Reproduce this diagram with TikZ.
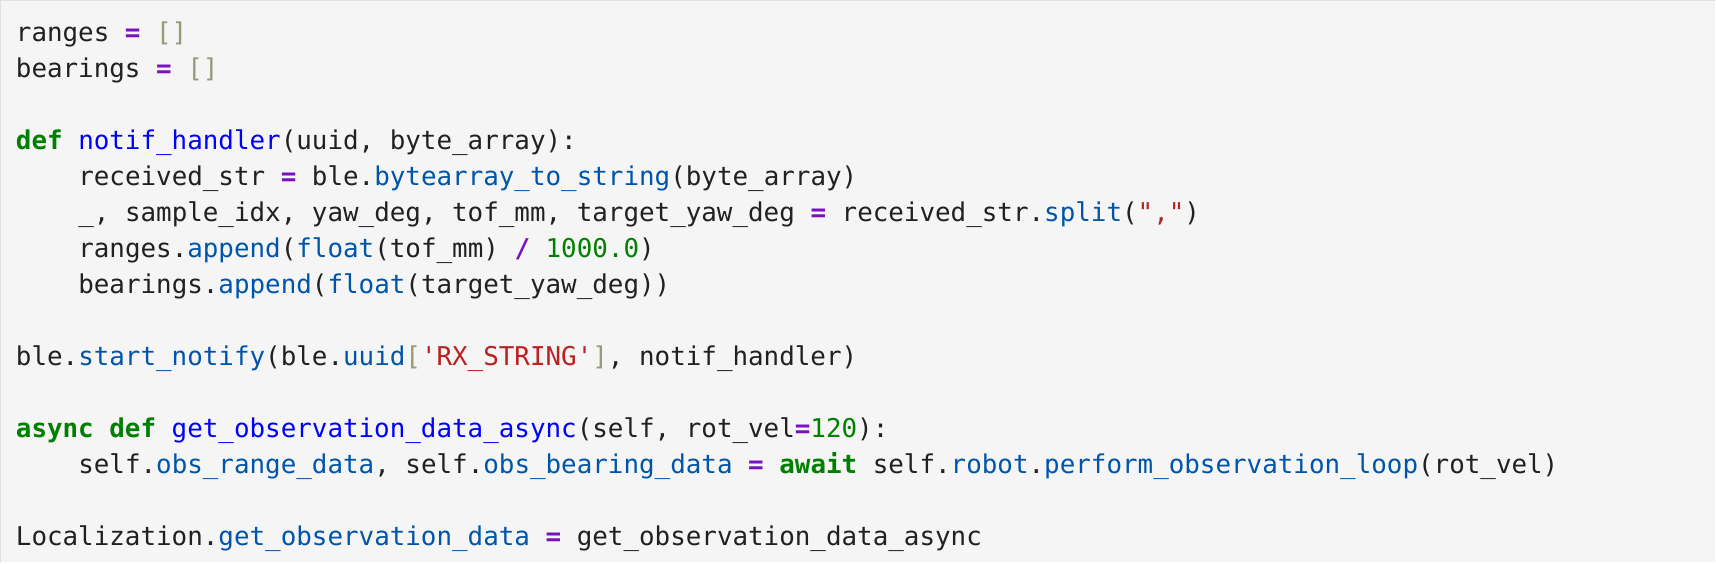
\documentclass[tikz,border=0pt]{standalone}
\usepackage{fontspec}
\setmonofont{DejaVu Sans Mono}
\usetikzlibrary{positioning}
\definecolor{codebg}{RGB}{245, 245, 245}
\definecolor{codeframe}{RGB}{224, 224, 224}
\definecolor{codetext}{RGB}{33, 33, 33}
\definecolor{kwgreen}{RGB}{0, 128, 0}
\definecolor{fnblue}{RGB}{0, 0, 255}
\definecolor{attrblue}{RGB}{0, 85, 170}
\definecolor{oppurple}{RGB}{122, 16, 192}
\definecolor{brolive}{RGB}{153, 153, 119}
\definecolor{strred}{RGB}{186, 33, 33}
\newcommand{\kw}[1]{\textcolor{kwgreen}{\textbf{#1}}}
\newcommand{\fn}[1]{\textcolor{fnblue}{#1}}
\newcommand{\me}[1]{\textcolor{attrblue}{#1}}
\newcommand{\op}[1]{\textcolor{oppurple}{\textbf{#1}}}
\newcommand{\br}[1]{\textcolor{brolive}{#1}}
\newcommand{\st}[1]{\textcolor{strred}{#1}}
\newcommand{\nm}[1]{\textcolor{kwgreen}{#1}}
\tikzset{codeline/.style={anchor=base west, inner sep=0pt, text=codetext, font=\ttfamily\fontsize{25.9}{30}\selectfont}}

\begin{document}
\begin{tikzpicture}[x=1pt, y=-1pt]

% Background
\fill[codebg] (0,0) rectangle (1716,562);
\draw[codeframe, line width=1.5pt] (0,562) -- (0,0) -- (1716,0);

% Code lines
\node (l0) [codeline] at (15,41) {ranges \op{=} \br{[]}};
\node (l1) [codeline] at (15,77) {bearings \op{=} \br{[]}};
\node (l3) [codeline] at (15,149) {\kw{def} \fn{notif\_handler}(uuid, byte\_array):};
\node (l4) [codeline] at (77.4,185) {received\_str \op{=} ble.\me{bytearray\_to\_string}(byte\_array)};
\node (l5) [codeline] at (77.4,221) {\_, sample\_idx, yaw\_deg, tof\_mm, target\_yaw\_deg \op{=} received\_str.\me{split}(\st{","})};
\node (l6) [codeline] at (77.4,257) {ranges.\me{append}(\me{float}(tof\_mm) \op{/} \nm{1000.0})};
\node (l7) [codeline] at (77.4,293) {bearings.\me{append}(\me{float}(target\_yaw\_deg))};
\node (l9) [codeline] at (15,365) {ble.\me{start\_notify}(ble.\me{uuid}\br{[}\st{'RX\_STRING'}\br{]}, notif\_handler)};
\node (l11) [codeline] at (15,437) {\kw{async} \kw{def} \fn{get\_observation\_data\_async}(self, rot\_vel\op{=}\nm{120}):};
\node (l12) [codeline] at (77.4,473) {self.\me{obs\_range\_data}, self.\me{obs\_bearing\_data} \op{=} \kw{await} self.\me{robot}.\me{perform\_observation\_loop}(rot\_vel)};
\node (l14) [codeline] at (15,545) {Localization.\me{get\_observation\_data} \op{=} get\_observation\_data\_async};

\end{tikzpicture}
\end{document}
